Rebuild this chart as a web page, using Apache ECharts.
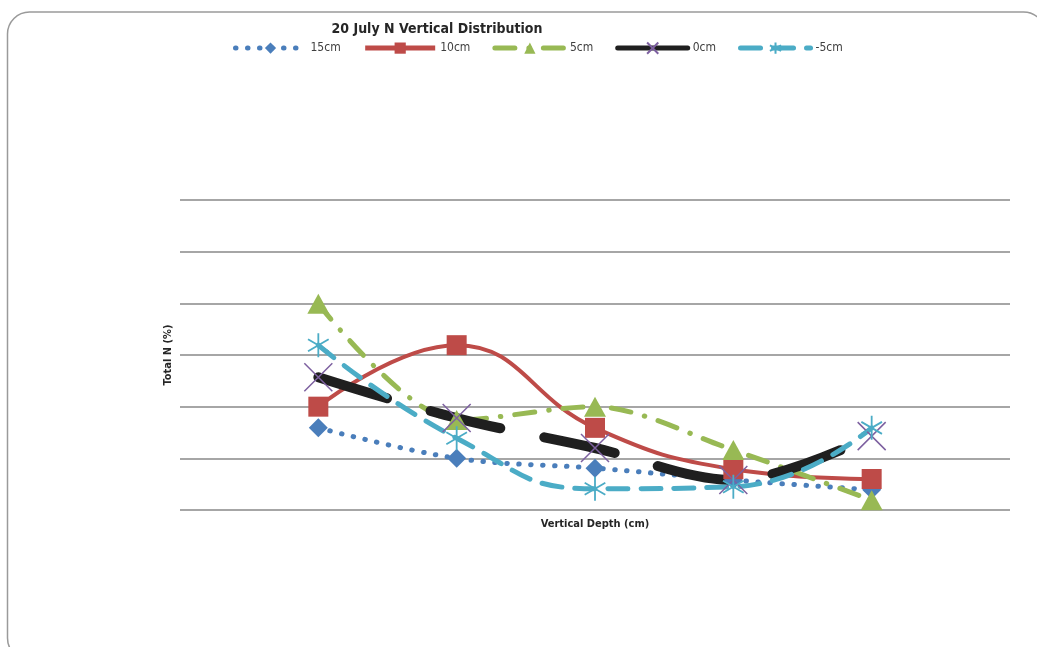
<!DOCTYPE html>
<html>
<head>
<meta charset="utf-8">
<script src="https://cdn.jsdelivr.net/npm/echarts@6/dist/echarts.min.js"></script>
<style>
  html, body { margin: 0; padding: 0; background: #fff; }
  #main { width: 1037px; height: 647px; }
</style>
</head>
<body>
<div id="main"></div>
<script>
// depth positions along the x axis (no labels shown in the original)
var depthPos = [1, 2, 3, 4, 5];
var seriesNames = ['15cm', '10cm', '5cm', '0cm', '-5cm'];
// Total N values
var n15 = [1.59, 1.0, 0.81, 0.58, 0.39];
var n10 = [2.0, 3.19, 1.59, 0.79, 0.6];
var n5 = [3.99, 1.74, 2.0, 1.16, 0.19];
var n0 = [2.57, 1.78, 1.2, 0.58, 1.43];
var nMinus5 = [3.19, 1.39, 0.41, 0.45, 1.59];

var FONT = "'DejaVu Sans Condensed', 'Roboto', sans-serif";

function pairs(vals) {
    var out = [];
    for (var i = 0; i < vals.length; i++) out.push([depthPos[i], vals[i]]);
    return out;
}

var crossPath = 'path://M0,0L10,10M10,0L0,10';
var starPath = 'path://M5,0L5,10M0.7,2.5L9.3,7.5M9.3,2.5L0.7,7.5';

var myChart = echarts.init(document.getElementById('main'));
var option = {
    backgroundColor: '#fff',
    animation: false,
    title: {
        text: '20 July N Vertical Distribution',
        left: 432, top: 17,
        textAlign: 'center',
        textStyle: { fontFamily: FONT, fontWeight: 'bold', fontSize: 14, color: '#262626' }
    },
    legend: {
        top: 35, left: 228,
        itemWidth: 70, itemHeight: 14, itemGap: 22,
        textStyle: { fontFamily: FONT, fontSize: 12, color: '#404040' },
        data: [
            { name: '15cm', lineStyle: { width: 5 } },
            { name: '10cm', lineStyle: { width: 5 } },
            { name: '5cm', lineStyle: { width: 5 } },
            { name: '0cm', lineStyle: { width: 5 } },
            { name: '-5cm', lineStyle: { width: 5 } }
        ]
    },
    graphic: [{
        type: 'rect',
        shape: { x: 7.5, y: 12, width: 1038, height: 648, r: 22 },
        style: { fill: 'none', stroke: '#9a9a9a', lineWidth: 1.5 },
        silent: true, z: -10
    }],
    grid: { left: 180, right: 27, top: 200, bottom: 137 },
    xAxis: {
        type: 'value', min: 0, max: 6,
        name: 'Vertical Depth (cm)', nameLocation: 'middle', nameGap: 9,
        nameTextStyle: { fontFamily: FONT, fontWeight: 'bold', fontSize: 11, color: '#262626' },
        axisLine: { show: false }, axisTick: { show: false },
        axisLabel: { show: false }, splitLine: { show: false }
    },
    yAxis: {
        type: 'value', min: 0, max: 6, interval: 1,
        name: 'Total N (%)', nameLocation: 'middle', nameGap: 6, nameRotate: 90,
        nameTextStyle: { fontFamily: FONT, fontWeight: 'bold', fontSize: 11, color: '#262626' },
        axisLine: { show: false }, axisTick: { show: false },
        axisLabel: { show: false },
        splitLine: { lineStyle: { color: '#a6a6a6', width: 2 } }
    },
    series: [
        {
            name: '15cm', type: 'line', smooth: 0.35,
            data: pairs(n15),
            symbol: 'diamond', symbolSize: 19,
            itemStyle: { color: '#4a7ebb' },
            lineStyle: { color: '#4a7ebb', width: 5, type: [0.5, 11.5], cap: 'round' }
        },
        {
            name: '10cm', type: 'line', smooth: 0.45,
            data: pairs(n10),
            symbol: 'rect', symbolSize: 20,
            itemStyle: { color: '#be4b48' },
            lineStyle: { color: '#be4b48', width: 4 }
        },
        {
            name: '5cm', type: 'line', smooth: 0.3,
            data: pairs(n5),
            symbol: 'triangle', symbolSize: [22, 20],
            itemStyle: { color: '#98b954' },
            lineStyle: { color: '#98b954', width: 5, type: [20, 14, 0.5, 14], cap: 'round' }
        },
        {
            name: '0cm', type: 'line', smooth: 0.35,
            data: pairs(n0),
            symbol: crossPath, symbolSize: 28, symbolKeepAspect: true,
            itemStyle: { color: 'none', borderColor: '#7d60a0', borderWidth: 1.5 },
            lineStyle: { color: '#1f1f1f', width: 10, type: [72, 45], cap: 'round' }
        },
        {
            name: '-5cm', type: 'line', smooth: 0.5,
            data: pairs(nMinus5),
            symbol: starPath, symbolSize: 24, symbolKeepAspect: true,
            itemStyle: { color: 'none', borderColor: '#4bacc6', borderWidth: 1.8 },
            lineStyle: { color: '#4bacc6', width: 5, type: [20, 13], cap: 'round' }
        }
    ]
};
myChart.setOption(option);
</script>
</body>
</html>
